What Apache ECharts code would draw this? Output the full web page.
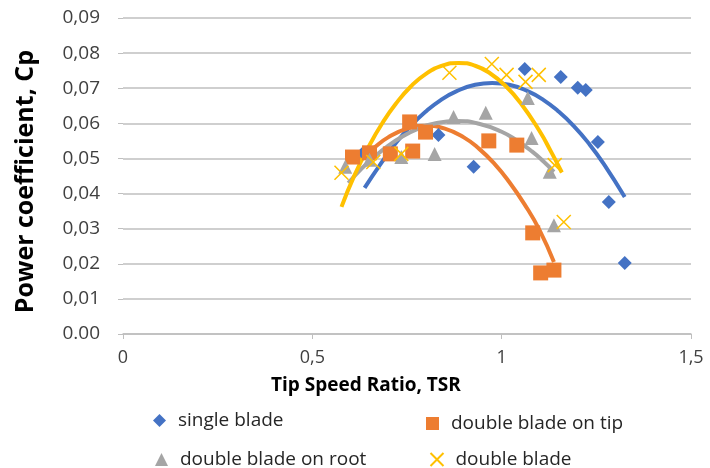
<!DOCTYPE html>
<html>
<head>
<meta charset="utf-8">
<script src="https://cdn.jsdelivr.net/npm/echarts@6/dist/echarts.min.js"></script>
<style>
  html, body { margin: 0; padding: 0; background: #fff; }
  #chart { width: 710px; height: 468px; }
</style>
</head>
<body>
<div id="chart"></div>
<script>
// tick labels (Excel mixes "0.00" with comma decimals)
const yTickLabels = ['0.00', '0,01', '0,02', '0,03', '0,04', '0,05', '0,06', '0,07', '0,08', '0,09']
const xTickLabels = ['0', '0,5', '1', '1,5']

// measured points [TSR, Cp]
const singleBlade = [
  [0.635, 0.0516], [0.833, 0.0567], [0.926, 0.0476], [1.061, 0.0755], [1.156, 0.0732],
  [1.201, 0.0701], [1.222, 0.0695], [1.254, 0.0547], [1.283, 0.0376], [1.325, 0.0202]
]
const doubleTip = [
  [0.606, 0.0504], [0.651, 0.0516], [0.706, 0.0513], [0.757, 0.0604], [0.765, 0.0521],
  [0.799, 0.0575], [0.966, 0.0550], [1.040, 0.0538], [1.082, 0.0288], [1.103, 0.0174],
  [1.138, 0.0182]
]
const doubleRoot = [
  [0.587, 0.0476], [0.651, 0.0496], [0.735, 0.0504], [0.823, 0.0513], [0.873, 0.0618],
  [0.958, 0.0630], [1.069, 0.0672], [1.079, 0.0558], [1.127, 0.0462], [1.138, 0.0310]
]
const doubleBlade = [
  [0.577, 0.0459], [0.661, 0.0490], [0.735, 0.0513], [0.862, 0.0744], [0.974, 0.0769],
  [1.013, 0.0738], [1.063, 0.0718], [1.098, 0.0738], [1.140, 0.0481], [1.164, 0.0319]
]

// trend lines
const trendSingle = [
  [0.638, 0.0416], [0.68, 0.0484], [0.72, 0.0543], [0.76, 0.0593], [0.80, 0.0634],
  [0.84, 0.0667], [0.88, 0.0691], [0.93, 0.0710], [0.975, 0.0715], [1.02, 0.0710],
  [1.07, 0.0691], [1.11, 0.0667], [1.15, 0.0634], [1.19, 0.0593], [1.23, 0.0543],
  [1.27, 0.0484], [1.325, 0.0390]
]
const trendTip = [
  [0.622, 0.0495], [0.66, 0.0528], [0.70, 0.0560], [0.75, 0.0585], [0.80, 0.0593],
  [0.85, 0.0585], [0.90, 0.0560], [0.94, 0.0528], [0.98, 0.0486], [1.02, 0.0433],
  [1.06, 0.0370], [1.10, 0.0296], [1.138, 0.0205]
]
const trendRoot = [
  [0.595, 0.0430], [0.63, 0.0471], [0.66, 0.0501], [0.70, 0.0536], [0.74, 0.0564],
  [0.78, 0.0585], [0.82, 0.0599], [0.88, 0.0607], [0.94, 0.0599], [1.00, 0.0576],
  [1.04, 0.0551], [1.08, 0.0520], [1.11, 0.0492], [1.138, 0.0462]
]
const trendDouble = [
  [0.577, 0.0362], [0.61, 0.0449], [0.65, 0.0536], [0.685, 0.0601], [0.72, 0.0655],
  [0.76, 0.0705], [0.80, 0.0741], [0.845, 0.0765], [0.886, 0.0772], [0.93, 0.0764],
  [0.97, 0.0742], [1.01, 0.0707], [1.05, 0.0658], [1.10, 0.0578], [1.13, 0.0520],
  [1.159, 0.0460]
]

const BLUE = '#4472C4'
const ORANGE = '#ED7D31'
const GRAY = '#A5A5A5'
const YELLOW = '#FFC000'
const FONT = 'Open Sans'
const X_ICON = 'path://M0,0L10,10M10,0L0,10'

const chart = echarts.init(document.getElementById('chart'))

function trend(data, color) {
  return {
    type: 'line',
    data: data,
    smooth: true,
    showSymbol: false,
    silent: true,
    lineStyle: { color: color, width: 4 },
    z: 2
  }
}

function legendAt(name, left, top) {
  return {
    data: [name],
    left: left,
    top: top,
    itemWidth: 13,
    itemHeight: 13,
    textStyle: { fontFamily: FONT, fontSize: 19, color: '#262626', padding: [0, 0, 0, 7] }
  }
}

const option = {
  animation: false,
  textStyle: { fontFamily: FONT },
  grid: { left: 123, right: 19, top: 18, bottom: 134 },
  xAxis: {
    type: 'value',
    min: 0,
    max: 1.5,
    interval: 0.5,
    axisLine: { show: true, lineStyle: { color: '#bfbfbf', width: 1.5 } },
    axisTick: { show: true, length: 5, lineStyle: { color: '#bfbfbf' } },
    axisLabel: {
      margin: 15,
      fontSize: 18,
      color: '#404040',
      formatter: (v, i) => xTickLabels[i]
    },
    splitLine: { show: false }
  },
  yAxis: {
    type: 'value',
    min: 0,
    max: 0.09,
    interval: 0.01,
    axisLine: { show: false },
    axisTick: { show: true, length: 5, lineStyle: { color: '#bfbfbf' } },
    axisLabel: {
      margin: 23,
      fontSize: 19,
      color: '#404040',
      formatter: (v, i) => yTickLabels[i]
    },
    splitLine: { lineStyle: { color: '#bfbfbf', width: 1.5 } }
  },
  legend: [
    legendAt('single blade', 148, 406),
    legendAt('double blade on tip', 421, 409),
    legendAt('double blade on root', 150, 445),
    legendAt('double blade', 423, 445)
  ],
  graphic: [
    {
      type: 'text',
      left: 271,
      top: 376,
      style: { text: 'Tip Speed Ratio, TSR', fontFamily: FONT, fontSize: 19, fontWeight: 'bold', fill: '#000' }
    },
    {
      type: 'text',
      rotation: Math.PI / 2,
      left: 13,
      top: 50,
      style: { text: 'Power coefficient, Cp', fontFamily: FONT, fontSize: 25, fontWeight: 'bold', fill: '#000' }
    }
  ],
  series: [
    trend(trendSingle, BLUE),
    trend(trendTip, ORANGE),
    trend(trendRoot, GRAY),
    trend(trendDouble, YELLOW),
    {
      name: 'single blade',
      type: 'scatter',
      symbol: 'diamond',
      symbolSize: 14,
      data: singleBlade,
      itemStyle: { color: BLUE, opacity: 1 },
      z: 3
    },
    {
      name: 'double blade on tip',
      type: 'scatter',
      symbol: 'rect',
      symbolSize: 15,
      data: doubleTip,
      itemStyle: { color: ORANGE, opacity: 1 },
      z: 3
    },
    {
      name: 'double blade on root',
      type: 'scatter',
      symbol: 'triangle',
      symbolSize: 14,
      data: doubleRoot,
      itemStyle: { color: GRAY, opacity: 1 },
      z: 3
    },
    {
      name: 'double blade',
      type: 'scatter',
      symbol: X_ICON,
      symbolSize: 14,
      data: doubleBlade,
      itemStyle: { color: 'none', borderColor: YELLOW, borderWidth: 1.5, opacity: 1 },
      z: 3
    }
  ]
}

chart.setOption(option)
</script>
</body>
</html>
